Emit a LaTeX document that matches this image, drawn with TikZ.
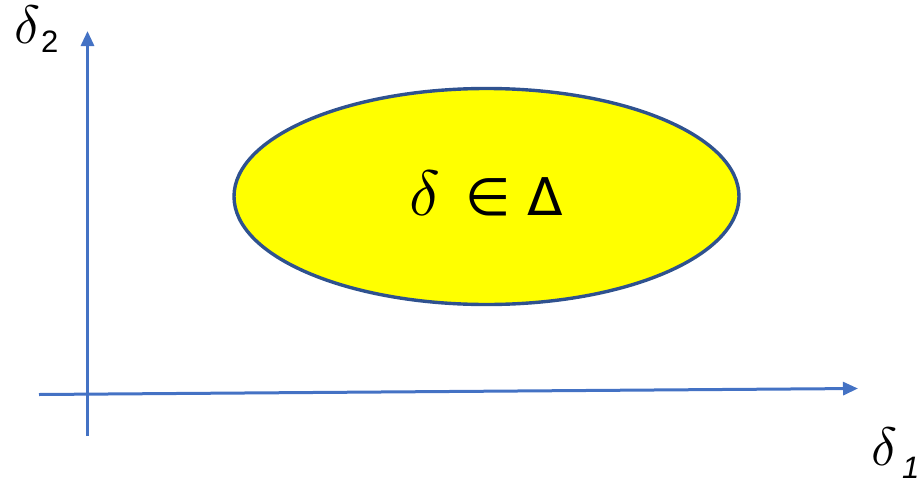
\documentclass[tikz,border=0pt]{standalone}
\usepackage{fontspec}
\usepackage{unicode-math}
\usepackage{xcolor}
\usepackage{tikz}
\usetikzlibrary{arrows.meta,shapes.geometric}
\setmainfont{Liberation Sans}
\newfontfamily\symfont{DejaVu Sans}
\definecolor{axisBlue}{HTML}{4472C4}
\definecolor{rimBlue}{HTML}{2F528F}
\definecolor{setYellow}{HTML}{FFFF00}
\tikzset{
  axis/.style={-{Triangle[length=15pt,width=13pt]}, line width=3pt, axisBlue},
  setblob/.style={ellipse, draw=rimBlue, fill=setYellow, line width=3.4pt,
    minimum width=505pt, minimum height=216pt, inner sep=0pt},
  lbl/.style={font=\fontsize{54}{60}\selectfont, inner sep=0pt},
  sub/.style={font=\fontsize{31}{36}\selectfont, inner sep=0pt},
}

\begin{document}
\begin{tikzpicture}[x=1pt, y=-1pt]
  \useasboundingbox (0,0) rectangle (918,477);
  \coordinate (xstart) at (39,394.5);
  \coordinate (xend)   at (858,388.5);
  \coordinate (ystart) at (87.5,436);
  \coordinate (yend)   at (87.5,31);
  \draw[axis] (xstart) -- (xend);
  \draw[axis] (ystart) -- (yend);
  \node[setblob] (delta set) at (486.5,196.5) {};
  \node[font=\symfont\fontsize{52}{60}\selectfont, anchor=base] (set lbl)
    at (486.5,215) {{\fontsize{64}{70}\selectfont$\delta$}\, ∈ Δ};
  % axis labels
  \node[lbl, anchor=base west] (d2) at (14,43) {$\delta$};
  \node[sub, anchor=base west] (d2 sub) at (41,52) {2};
  \node[lbl, anchor=base west] (d1) at (871,465) {$\delta$};
  \node[sub, anchor=base west] (d1 sub) at (902,478) {\textit{1}};
\end{tikzpicture}
\end{document}
